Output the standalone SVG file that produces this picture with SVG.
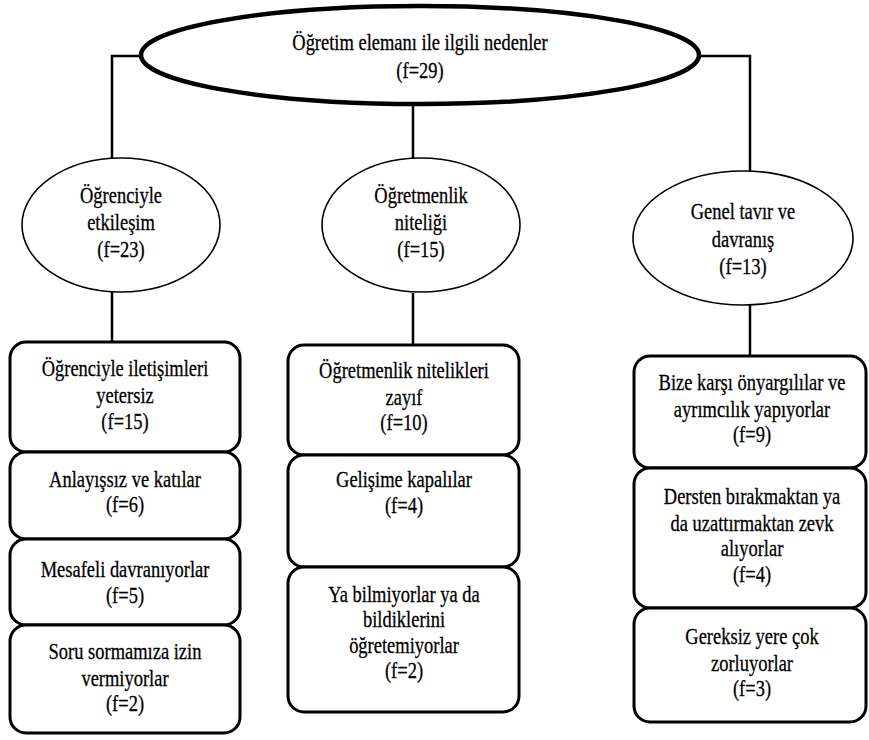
<svg xmlns="http://www.w3.org/2000/svg" width="869" height="740" viewBox="0 0 869 740">
<style>
.bg{fill:#fff}
.box{fill:#fff;stroke:#000;stroke-width:3}
.ell{fill:#fff;stroke:#000;stroke-width:1.6}
.top{fill:#fff;stroke:#000;stroke-width:4.5}
.conn{fill:none;stroke:#000;stroke-width:2.5}
.t{font-family:'Liberation Serif','Times New Roman','DejaVu Serif',serif;font-size:24px;fill:#000;stroke:#000;stroke-width:0.3;text-anchor:middle}
</style>
<rect class="bg" x="0" y="0" width="869" height="740"/>
<g id="connectors">
<polyline class="conn" points="142,56 112,56 112,158"/>
<polyline class="conn" points="698,56 750,56 750,172"/>
<line class="conn" x1="413" y1="104" x2="413" y2="158"/>
<line class="conn" x1="112" y1="292" x2="112" y2="342"/>
<line class="conn" x1="413" y1="293" x2="413" y2="345"/>
<line class="conn" x1="750" y1="305" x2="750" y2="356"/>
</g>
<g id="root">
<ellipse class="top" cx="420" cy="55" rx="279" ry="49"/>
<text class="t" transform="translate(420 0) scale(0.77 1)"><tspan x="0" y="50">Öğretim elemanı ile ilgili nedenler</tspan><tspan x="0" y="78">(f=29)</tspan></text>
</g>
<g id="cat1">
<ellipse class="ell" cx="121" cy="225" rx="99" ry="67"/>
<text class="t" transform="translate(121 0) scale(0.77 1)"><tspan x="0" y="203">Öğrenciyle</tspan><tspan x="0" y="230">etkileşim</tspan><tspan x="0" y="257">(f=23)</tspan></text>
</g>
<g id="cat2">
<ellipse class="ell" cx="421" cy="225" rx="99" ry="67"/>
<text class="t" transform="translate(421 0) scale(0.77 1)"><tspan x="0" y="203">Öğretmenlik</tspan><tspan x="0" y="230">niteliği</tspan><tspan x="0" y="257">(f=15)</tspan></text>
</g>
<g id="cat3">
<ellipse class="ell" cx="743" cy="238" rx="110" ry="67"/>
<text class="t" transform="translate(743 0) scale(0.77 1)"><tspan x="0" y="219">Genel tavır ve</tspan><tspan x="0" y="247">davranış</tspan><tspan x="0" y="274">(f=13)</tspan></text>
</g>
<g id="l1">
<rect class="box" x="10" y="342" width="230" height="110" rx="16"/>
<text class="t" transform="translate(125 0) scale(0.77 1)"><tspan x="0" y="376">Öğrenciyle iletişimleri</tspan><tspan x="0" y="403">yetersiz</tspan><tspan x="0" y="429">(f=15)</tspan></text>
</g>
<g id="l2">
<rect class="box" x="10" y="452" width="230" height="87" rx="16"/>
<text class="t" transform="translate(125 0) scale(0.77 1)"><tspan x="0" y="487">Anlayışsız ve katılar</tspan><tspan x="0" y="512">(f=6)</tspan></text>
</g>
<g id="l3">
<rect class="box" x="10" y="539" width="230" height="86" rx="16"/>
<text class="t" transform="translate(125 0) scale(0.77 1)"><tspan x="0" y="577">Mesafeli davranıyorlar</tspan><tspan x="0" y="603">(f=5)</tspan></text>
</g>
<g id="l4">
<rect class="box" x="10" y="625" width="230" height="108" rx="16"/>
<text class="t" transform="translate(125 0) scale(0.77 1)"><tspan x="0" y="659">Soru sormamıza izin</tspan><tspan x="0" y="686">vermiyorlar</tspan><tspan x="0" y="711">(f=2)</tspan></text>
</g>
<g id="m1">
<rect class="box" x="288" y="345" width="231" height="110" rx="16"/>
<text class="t" transform="translate(404 0) scale(0.77 1)"><tspan x="0" y="378">Öğretmenlik nitelikleri</tspan><tspan x="0" y="405">zayıf</tspan><tspan x="0" y="430">(f=10)</tspan></text>
</g>
<g id="m2">
<rect class="box" x="288" y="455" width="231" height="112" rx="16"/>
<text class="t" transform="translate(404 0) scale(0.77 1)"><tspan x="0" y="487">Gelişime kapalılar</tspan><tspan x="0" y="513">(f=4)</tspan></text>
</g>
<g id="m3">
<rect class="box" x="288" y="567" width="231" height="145" rx="16"/>
<text class="t" transform="translate(404 0) scale(0.77 1)"><tspan x="0" y="602">Ya bilmiyorlar ya da</tspan><tspan x="0" y="627">bildiklerini</tspan><tspan x="0" y="653">öğretemiyorlar</tspan><tspan x="0" y="678">(f=2)</tspan></text>
</g>
<g id="r1">
<rect class="box" x="634" y="356" width="232" height="112" rx="16"/>
<text class="t" transform="translate(752 0) scale(0.77 1)"><tspan x="0" y="390">Bize karşı önyargılılar ve</tspan><tspan x="0" y="417">ayrımcılık yapıyorlar</tspan><tspan x="0" y="442">(f=9)</tspan></text>
</g>
<g id="r2">
<rect class="box" x="634" y="468" width="232" height="140" rx="16"/>
<text class="t" transform="translate(752 0) scale(0.77 1)"><tspan x="0" y="504">Dersten bırakmaktan ya</tspan><tspan x="0" y="531">da uzattırmaktan zevk</tspan><tspan x="0" y="556">alıyorlar</tspan><tspan x="0" y="582">(f=4)</tspan></text>
</g>
<g id="r3">
<rect class="box" x="634" y="608" width="232" height="114" rx="16"/>
<text class="t" transform="translate(752 0) scale(0.77 1)"><tspan x="0" y="644">Gereksiz yere çok</tspan><tspan x="0" y="671">zorluyorlar</tspan><tspan x="0" y="696">(f=3)</tspan></text>
</g>
</svg>
